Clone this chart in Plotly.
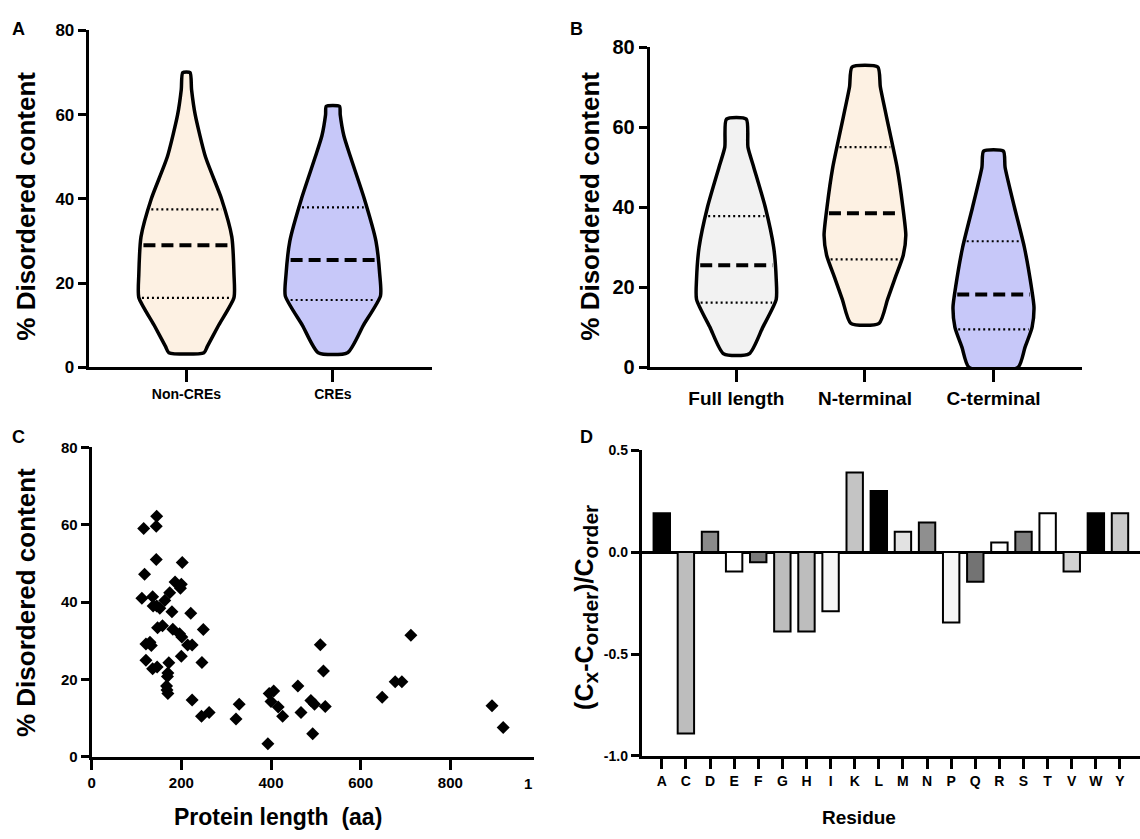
import numpy as np
import plotly.graph_objects as go

W, H = 1140, 839
FONT = "Liberation Sans, Arial, sans-serif"

# ---------------- Panel A data ----------------
a_groups = ["Non-CREs", "CREs"]
a_noncre_levels = [3.5, 5, 10, 16.6, 22, 31, 40, 50, 60, 66, 70]
a_noncre_half = [0.12, 0.143, 0.22, 0.325, 0.325, 0.31, 0.24, 0.13, 0.06, 0.035, 0.025]
a_cre_levels = [3.5, 10, 17, 22, 30, 40, 50, 55, 60, 62]
a_cre_half = [0.10, 0.208, 0.325, 0.32, 0.294, 0.215, 0.12, 0.075, 0.05, 0.045]
a_quartiles = [[16.5, 29.0, 37.5], [16.0, 25.5, 38.0]]

# ---------------- Panel B data ----------------
b_groups = ["Full length", "N-terminal", "C-terminal"]
b_full_levels = [3.4, 10, 17, 22, 30, 40, 50, 55, 62]
b_full_half = [0.10, 0.205, 0.31, 0.31, 0.29, 0.225, 0.135, 0.09, 0.077]
b_nterm_levels = [11, 17, 22, 28, 33, 40, 50, 60, 70, 75]
b_nterm_half = [0.11, 0.176, 0.231, 0.298, 0.318, 0.295, 0.25, 0.185, 0.12, 0.10]
b_cterm_levels = [0, 5, 10, 15, 20, 30, 40, 50, 54]
b_cterm_half = [0.19, 0.245, 0.30, 0.315, 0.295, 0.24, 0.163, 0.09, 0.077]
b_quartiles = [[16.2, 25.5, 37.8], [27.0, 38.5, 55.0], [9.5, 18.2, 31.5]]

# ---------------- Panel C data ----------------
c_length = [116, 145, 144, 144, 118, 202, 112, 136, 137, 145, 152, 163, 174, 186, 200,
            198, 179, 221, 147, 158, 181, 196, 201, 249, 121, 130, 133, 214, 224, 121,
            200, 246, 136, 146, 172, 170, 169, 167, 168, 170, 224, 245, 262, 322, 329,
            393, 396, 406, 400, 416, 426, 460, 467, 489, 497, 493, 510, 517, 521, 648,
            677, 692, 712, 893, 918]
c_disorder = [59.0, 62.2, 59.6, 51.0, 47.2, 50.2, 41.0, 41.4, 39.0, 39.0, 38.4, 40.4, 42.4, 45.2, 44.6,
              43.6, 37.5, 37.1, 33.4, 33.9, 33.0, 31.8, 31.0, 32.9, 29.2, 29.6, 28.8, 28.9, 28.9, 25.0,
              26.0, 24.4, 22.8, 23.2, 24.3, 21.7, 20.8, 18.3, 17.3, 16.4, 14.7, 10.5, 11.5, 9.8, 13.6,
              3.4, 16.4, 17.0, 14.3, 12.9, 10.5, 18.3, 11.5, 14.6, 13.6, 6.0, 29.0, 22.2, 13.0, 15.4,
              19.4, 19.4, 31.4, 13.2, 7.6]

# ---------------- Panel D data ----------------
d_residues = ["A", "C", "D", "E", "F", "G", "H", "I", "K", "L",
              "M", "N", "P", "Q", "R", "S", "T", "V", "W", "Y"]
d_values = [0.19, -0.89, 0.10, -0.095, -0.05, -0.39, -0.39, -0.29, 0.39, 0.30,
            0.10, 0.145, -0.345, -0.145, 0.047, 0.10, 0.19, -0.095, 0.19, 0.19]
d_colors = ["#000000", "#bdbdbd", "#8a8a8a", "#ffffff", "#7a7a7a", "#bdbdbd", "#bdbdbd", "#f7f7f7",
            "#c4c4c4", "#000000", "#e2e2e2", "#8f8f8f", "#f7f7f7", "#737373", "#ffffff", "#7f7f7f",
            "#ffffff", "#d2d2d2", "#000000", "#cacaca"]

PEACH = "#fdf1e3"
LAV = "#c7c8f9"
GREY = "#f2f2f2"

fig = go.Figure()


def add_violin(center, levels, half, quarts, fill, xa, ya):
    lv = np.array(levels, dtype=float)
    hw = np.array(half, dtype=float)
    xs = np.concatenate([center + hw, (center - hw)[::-1], [center + hw[0]]])
    ys = np.concatenate([lv, lv[::-1], [lv[0]]])
    fig.add_trace(go.Scatter(x=xs, y=ys, mode="lines", fill="toself", fillcolor=fill,
                             line=dict(color="black", width=3.5, shape="spline", smoothing=0.6),
                             xaxis=xa, yaxis=ya, showlegend=False, hoverinfo="skip"))
    for i, q in enumerate(quarts):
        w = float(np.interp(q, lv, hw)) - 0.02
        fig.add_trace(go.Scatter(x=[center - w, center + w], y=[q, q], mode="lines",
                                 line=dict(color="black", width=4 if i == 1 else 2.2,
                                           dash="12px,6px" if i == 1 else "2px,3px"),
                                 xaxis=xa, yaxis=ya, showlegend=False, hoverinfo="skip"))


add_violin(0, a_noncre_levels, a_noncre_half, a_quartiles[0], PEACH, "x", "y")
add_violin(1, a_cre_levels, a_cre_half, a_quartiles[1], LAV, "x", "y")
add_violin(0, b_full_levels, b_full_half, b_quartiles[0], GREY, "x2", "y2")
add_violin(1, b_nterm_levels, b_nterm_half, b_quartiles[1], PEACH, "x2", "y2")
add_violin(2, b_cterm_levels, b_cterm_half, b_quartiles[2], LAV, "x2", "y2")

fig.add_trace(go.Scatter(x=c_length, y=c_disorder, mode="markers",
                         marker=dict(symbol="diamond", size=10, color="black"),
                         xaxis="x3", yaxis="y3", showlegend=False))

fig.add_trace(go.Bar(x=d_residues, y=d_values, width=0.68,
                     marker=dict(color=d_colors, line=dict(color="black", width=2)),
                     xaxis="x4", yaxis="y4", showlegend=False))


def px_x(v):
    return v / W


def px_y(v):
    return 1 - v / H


def tf(size):
    return dict(family=FONT, size=size, color="black", weight="bold")


axis_common = dict(showline=True, linecolor="black", linewidth=3, ticks="outside",
                   tickwidth=3, tickcolor="black", showgrid=False, zeroline=False)

fig.update_layout(
    width=W, height=H, margin=dict(l=0, r=0, t=0, b=0),
    paper_bgcolor="white", plot_bgcolor="white",
    xaxis=dict(domain=[px_x(85), px_x(430)], range=[-0.667, 1.68], tickvals=[0, 1],
               ticktext=a_groups, anchor="y", ticklen=12, tickfont=tf(14), **axis_common),
    yaxis=dict(domain=[px_y(366), px_y(20)], range=[0, 80], tickvals=[0, 20, 40, 60, 80],
               anchor="x", ticklen=8, tickfont=tf(17), **axis_common),
    xaxis2=dict(domain=[px_x(648), px_x(1082)], range=[-0.674, 2.69], tickvals=[0, 1, 2],
                ticktext=b_groups, anchor="y2", ticklen=12, tickfont=tf(19), **axis_common),
    yaxis2=dict(domain=[px_y(366), px_y(37)], range=[0, 80], tickvals=[0, 20, 40, 60, 80],
                anchor="x2", ticklen=8, tickfont=tf(20), **axis_common),
    xaxis3=dict(domain=[px_x(88), px_x(532)], range=[0, 987], tickvals=[0, 200, 400, 600, 800],
                anchor="y3", ticklen=10, tickfont=tf(15), **axis_common),
    yaxis3=dict(domain=[px_y(766), px_y(448)], range=[0, 80], tickvals=[0, 20, 40, 60, 80],
                anchor="x3", ticklen=8, tickfont=tf(15), **axis_common),
    xaxis4=dict(domain=[px_x(640), 1.0], range=[-0.83, 19.83], type="category",
                anchor="y4", ticklen=10, tickfont=tf(14), **axis_common),
    yaxis4=dict(domain=[px_y(765), px_y(451)], range=[-1.0, 0.5],
                tickvals=[-1.0, -0.5, 0.0, 0.5], ticktext=["-1.0", "-0.5", "0.0", "0.5"],
                anchor="x4", ticklen=8, tickfont=tf(14),
                **{**axis_common, "zeroline": True, "zerolinecolor": "black", "zerolinewidth": 3}),
)

annots = []


def add_text(x, y, text, size, angle=0):
    annots.append(dict(x=px_x(x), y=px_y(y), xref="paper", yref="paper", text=text,
                       showarrow=False, textangle=angle, xanchor="center", yanchor="middle",
                       font=tf(size)))


add_text(15, 18, "A", 18)
add_text(575, 18, "B", 18)
add_text(15, 437, "C", 18)
add_text(585, 437, "D", 18)
add_text(22, 200, "% Disordered content", 26, angle=-90)
add_text(588, 200, "% Disordered content", 26, angle=-90)
add_text(22, 607, "% Disordered content", 26, angle=-90)
sub = '<sub><span style="font-size:21px">%s</span></sub>'
add_text(584, 612, "(C" + sub % "x" + "-C" + sub % "order" + ")/C" + sub % "order", 25, angle=-90)
add_text(275, 828, "Protein length  (aa)", 23)
add_text(858, 828, "Residue", 19)
add_text(526, 793, "1", 15)

fig.update_layout(annotations=annots)
fig.write_html("out.html", config={"displayModeBar": False},
               post_script="document.body.style.margin='0';document.body.style.overflow='hidden';")
